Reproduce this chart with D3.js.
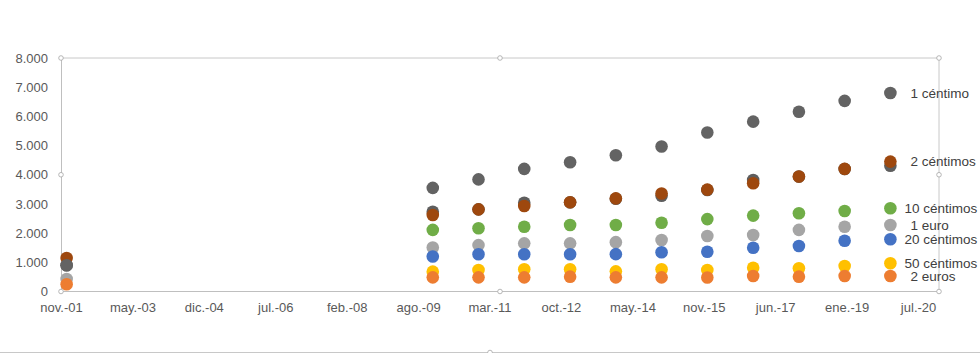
<!DOCTYPE html>
<html lang="es">
<head>
<meta charset="utf-8"/>
<title>Monedas</title>
<style>
    body { margin: 0; background: #fff; }
    .axis text { font: 13px "Liberation Sans", Arial, sans-serif; fill: #595959; }
    .lbl { font: 13.5px "Liberation Sans", Arial, sans-serif; fill: #404040; }
</style>
</head>
<body>
<div id="graph"></div>
<script src="https://d3js.org/d3.v7.min.js"></script>
<script>
    // years of each point (placed mid/late december)
    var years = [2001, 2009, 2010, 2011, 2012, 2013, 2014, 2015, 2016, 2017, 2018, 2019];

    var c5  = [900, 2730, 2815, 3040, 3055, 3180, 3280, 3480, 3820, 3935, 4195, 4310];
    var c2  = [1150, 2620, 2815, 2930, 3060, 3190, 3360, 3490, 3710, 3940, 4200, 4450];
    var c1  = [900, 3550, 3840, 4200, 4430, 4670, 4970, 5450, 5820, 6160, 6530, 6800];
    var c10 = [null, 2110, 2165, 2220, 2280, 2280, 2357, 2480, 2600, 2680, 2760, 2850];
    var e1  = [430, 1510, 1590, 1650, 1650, 1690, 1764, 1900, 1936, 2110, 2220, 2280];
    var c20 = [null, 1200, 1274, 1274, 1274, 1280, 1343, 1364, 1500, 1560, 1740, 1790];
    var c50 = [null, 680, 737, 760, 760, 690, 760, 737, 815, 795, 874, 966];
    var e2  = [250, 485, 485, 485, 508, 485, 485, 480, 531, 508, 531, 531];

    // drawn bottom to top
    var series = [
        { name: "", values: c5, color: "#5E5E5E" },
        { name: "2 céntimos", values: c2, color: "#9E480E" },
        { name: "1 céntimo", values: c1, color: "#636363" },
        { name: "10 céntimos", values: c10, color: "#70AD47" },
        { name: "1 euro", values: e1, color: "#A5A5A5" },
        { name: "20 céntimos", values: c20, color: "#4472C4" },
        { name: "50 céntimos", values: c50, color: "#FFC000" },
        { name: "2 euros", values: e2, color: "#ED7D31" }
    ];

    var xTickLabels = ["nov.-01", "may.-03", "dic.-04", "jul.-06", "feb.-08", "ago.-09", "mar.-11",
                       "oct.-12", "may.-14", "nov.-15", "jun.-17", "ene.-19", "jul.-20"];
    var yTicks = [0, 1000, 2000, 3000, 4000, 5000, 6000, 7000, 8000];

    var W = 980, H = 353;
    var pLeft = 61, pRight = 939, pTop = 58, pBottom = 291.5;

    var day = 86400000;
    var xStart = new Date(2001, 10, 5);
    var xEnd = new Date(xStart.getTime() + 7007 * day);
    var tickDates = xTickLabels.map(function (d, i) { return new Date(xStart.getTime() + i * 570 * day); });

    var x = d3.scaleTime().domain([xStart, xEnd]).range([pLeft, pRight]);
    var y = d3.scaleLinear().domain([0, 8000]).range([pBottom, pTop]);

    var loc = d3.formatLocale({ decimal: ",", thousands: ".", grouping: [3], currency: ["", "€"] });
    var fmt = loc.format(",d");

    var svg = d3.select("#graph").append("svg")
        .attr("width", W).attr("height", H);

    // plot area outline (selected)
    svg.append("path")
        .attr("d", "M" + pLeft + "," + pTop + "H" + pRight + "V" + pBottom)
        .attr("fill", "none").attr("stroke", "#C8C8C8").attr("stroke-width", 1);

    var xAxis = d3.axisBottom(x).tickValues(tickDates).tickSize(0).tickPadding(11)
        .tickFormat(function (d, i) { return xTickLabels[i]; });
    var gx = svg.append("g").attr("class", "axis")
        .attr("transform", "translate(0," + pBottom + ")")
        .call(xAxis);
    gx.select(".domain").attr("stroke", "#BFBFBF").attr("d", "M" + pLeft + ",0H" + pRight);

    var yAxis = d3.axisLeft(y).tickValues(yTicks).tickSize(0).tickPadding(13)
        .tickFormat(function (d) { return fmt(d); });
    var gy = svg.append("g").attr("class", "axis")
        .attr("transform", "translate(" + pLeft + ",0)")
        .call(yAxis);
    gy.select(".domain").attr("stroke", "#BFBFBF");

    function pointDate(yr) { return new Date(yr, 11, 20); }

    series.forEach(function (s) {
        var pts = years.map(function (yr, i) { return { yr: yr, v: s.values[i] }; })
            .filter(function (p) { return p.v != null; });
        svg.append("g").selectAll("circle")
            .data(pts).enter().append("circle")
            .attr("cx", function (p) { return x(pointDate(p.yr)); })
            .attr("cy", function (p) { return y(p.v); })
            .attr("r", 6.3)
            .attr("fill", s.color);
    });

    // data labels on the last point
    series.forEach(function (s) {
        if (!s.name) return;
        var last = years.length - 1;
        var dx = /^\d\d/.test(s.name) ? 14 : 20;
        svg.append("text").attr("class", "lbl")
            .attr("x", x(pointDate(years[last])) + dx)
            .attr("y", y(s.values[last]))
            .attr("dy", "0.35em")
            .text(s.name);
    });

    // selection handles
    var handles = [[pLeft, pTop], [(pLeft + pRight) / 2, pTop], [pRight, pTop], [pLeft, (pTop + pBottom) / 2],
                   [pRight, (pTop + pBottom) / 2], [pLeft, pBottom], [(pLeft + pRight) / 2, pBottom], [pRight, pBottom]];
    svg.append("line").attr("x1", 0).attr("x2", W).attr("y1", 352.5).attr("y2", 352.5)
        .attr("stroke", "#C8C8C8");
    handles.push([490, 352.5]);
    svg.selectAll(".handle").data(handles).enter().append("circle")
        .attr("class", "handle")
        .attr("cx", function (d) { return d[0]; })
        .attr("cy", function (d) { return d[1]; })
        .attr("r", 2.3)
        .attr("fill", "#fff").attr("stroke", "#A6A6A6").attr("stroke-width", 0.8);
</script>
</body>
</html>
